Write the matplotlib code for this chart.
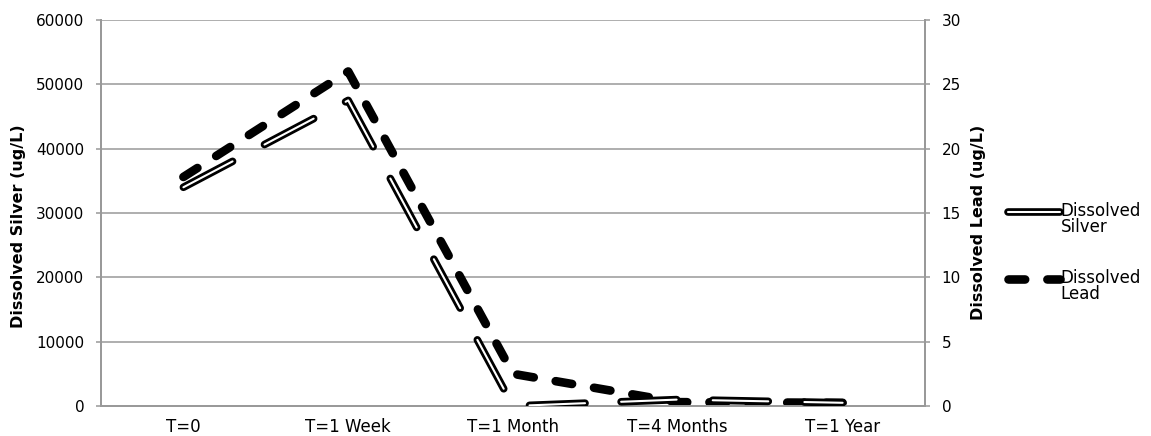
import numpy as np
import matplotlib
matplotlib.use("Agg")
import matplotlib.pyplot as plt
import matplotlib.patheffects as pe

# данные
categories = ["T=0", "T=1 Week", "T=1 Month", "T=4 Months", "T=1 Year"]
silver = [34000, 47500, 0, 1000, 500]       # ug/L, левая ось
lead = [17.8, 26, 2.5, 0.3, 0.25]           # ug/L, правая ось

plt.rcParams['font.family'] = ['DejaVu Sans']
plt.rcParams['lines.scale_dashes'] = False

GRAY = '#999999'
W, H = 1151, 436

fig = plt.figure(figsize=(W / 100, H / 100), dpi=100)
ax = fig.add_axes([101 / W, 1 - 406 / H, (925 - 101) / W, (406 - 20) / H])
ax2 = ax.twinx()

# свинец (правая ось) рисуется под серебром, сетка тоже на правой оси
ax.set_zorder(ax2.get_zorder() + 1)
ax.patch.set_visible(False)

x = np.arange(len(categories))

# серебро: двойная линия (белая с чёрным контуром), длинный штрих
l1, = ax.plot(x, silver, color='white', lw=1.5, dashes=(40, 26),
              dash_capstyle='round', solid_capstyle='round',
              label='Dissolved\nSilver', zorder=3)
l1.set_path_effects([pe.Stroke(linewidth=5.5, foreground='black'), pe.Normal()])

# свинец: толстый чёрный пунктир
l2, = ax2.plot(x, lead, color='black', lw=6.2, dashes=(12, 16),
               dash_capstyle='round', label='Dissolved\nLead', zorder=3)

ax.set_xlim(-0.5, len(categories) - 0.5)
ax.set_ylim(0, 60000)
ax.set_yticks(range(0, 60001, 10000))
ax2.set_ylim(0, 30)
ax2.set_yticks(range(0, 31, 5))

ax.set_xticks(x)
ax.set_xticklabels(categories)
ax2.yaxis.grid(True, color=GRAY, lw=1.1)
ax2.set_axisbelow(True)

for a in (ax, ax2):
    a.spines['top'].set_visible(False)
    for s in ('left', 'right', 'bottom'):
        a.spines[s].set_color(GRAY)
        a.spines[s].set_linewidth(1.4)
    a.tick_params(axis='y', length=3.5, width=1.1, color=GRAY, labelsize=11, pad=8.5)
ax.tick_params(axis='x', length=0, labelsize=12, pad=8.5)

lab_font = dict(weight='bold', size=11.5)
ax.set_ylabel('Dissolved Silver (ug/L)', fontdict=lab_font)
ax2.set_ylabel('Dissolved Lead (ug/L)', fontdict=lab_font)
ax.yaxis.set_label_coords((26 - 101) / 824, (406 - 226) / 386)
ax2.yaxis.set_label_coords((971 - 101) / 824, (406 - 222) / 386)

leg = fig.legend(handles=[l1, l2], loc='upper left',
                 bbox_to_anchor=(1008 / W, 1 - 202 / H),
                 frameon=False, fontsize=12, handlelength=3.1, handletextpad=0.05,
                 labelspacing=2.0, borderaxespad=0, borderpad=0)
for t in leg.get_texts():
    t.set_linespacing(0.85)
# маркер легенды выравнивается по первой строке подписи, как в Excel
for h in leg.legend_handles:
    h.set_ydata(np.asarray(h.get_ydata()) + 6)

fig.savefig('out.png', dpi=100)
